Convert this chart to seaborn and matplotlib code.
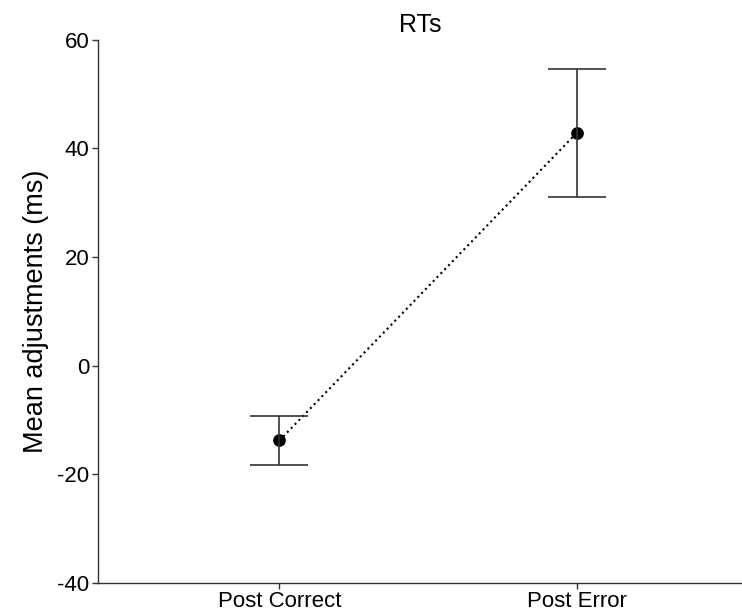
import matplotlib
matplotlib.use("Agg")
import matplotlib.pyplot as plt
import seaborn as sns
import pandas as pd

conditions = ["Post Correct", "Post Error"]
means = [-13.8, 42.9]
upper = [-9.2, 54.6]
lower = [-18.4, 31.0]
yticks = [-40, -20, 0, 20, 40, 60]

sns.set_style("white")
plt.rcParams['font.family'] = ['Liberation Sans', 'DejaVu Sans']

df = pd.DataFrame({"condition": conditions, "mean": means})

fig = plt.figure(figsize=(7.42, 6.14), dpi=100)
ax = fig.add_axes([0.132, 0.051, 0.87, 0.884])

sns.pointplot(data=df, x="condition", y="mean", color="black", errorbar=None,
              linestyles=":", markers="o", markersize=8, linewidth=1.5, ax=ax)
xpos = list(range(len(conditions)))
yerr = [[m - l for m, l in zip(means, lower)], [u - m for m, u in zip(means, upper)]]
ax.errorbar(xpos, means, yerr=yerr, fmt="none", ecolor="#333333", elinewidth=1.2,
            capsize=21, capthick=1.2)

ax.set_ylim(-40, 60)
ax.set_xlim(-0.61, 1.56)
ax.set_yticks(yticks)
ax.set_yticklabels([str(t) for t in yticks])
ax.set_xlabel("")
ax.set_ylabel("Mean adjustments (ms)", fontsize=19.5, color="black", labelpad=6)
ax.set_title("RTs", fontsize=18, color="black", pad=6)

for s in ["top", "right"]:
    ax.spines[s].set_visible(False)
for s in ["left", "bottom"]:
    ax.spines[s].set_color("#333333")
    ax.spines[s].set_linewidth(1.0)
ax.tick_params(axis="both", direction="out", length=4, width=1, color="#333333",
               labelsize=16, labelcolor="black", left=True, bottom=True, pad=2)

fig.savefig("out.png", dpi=100)
